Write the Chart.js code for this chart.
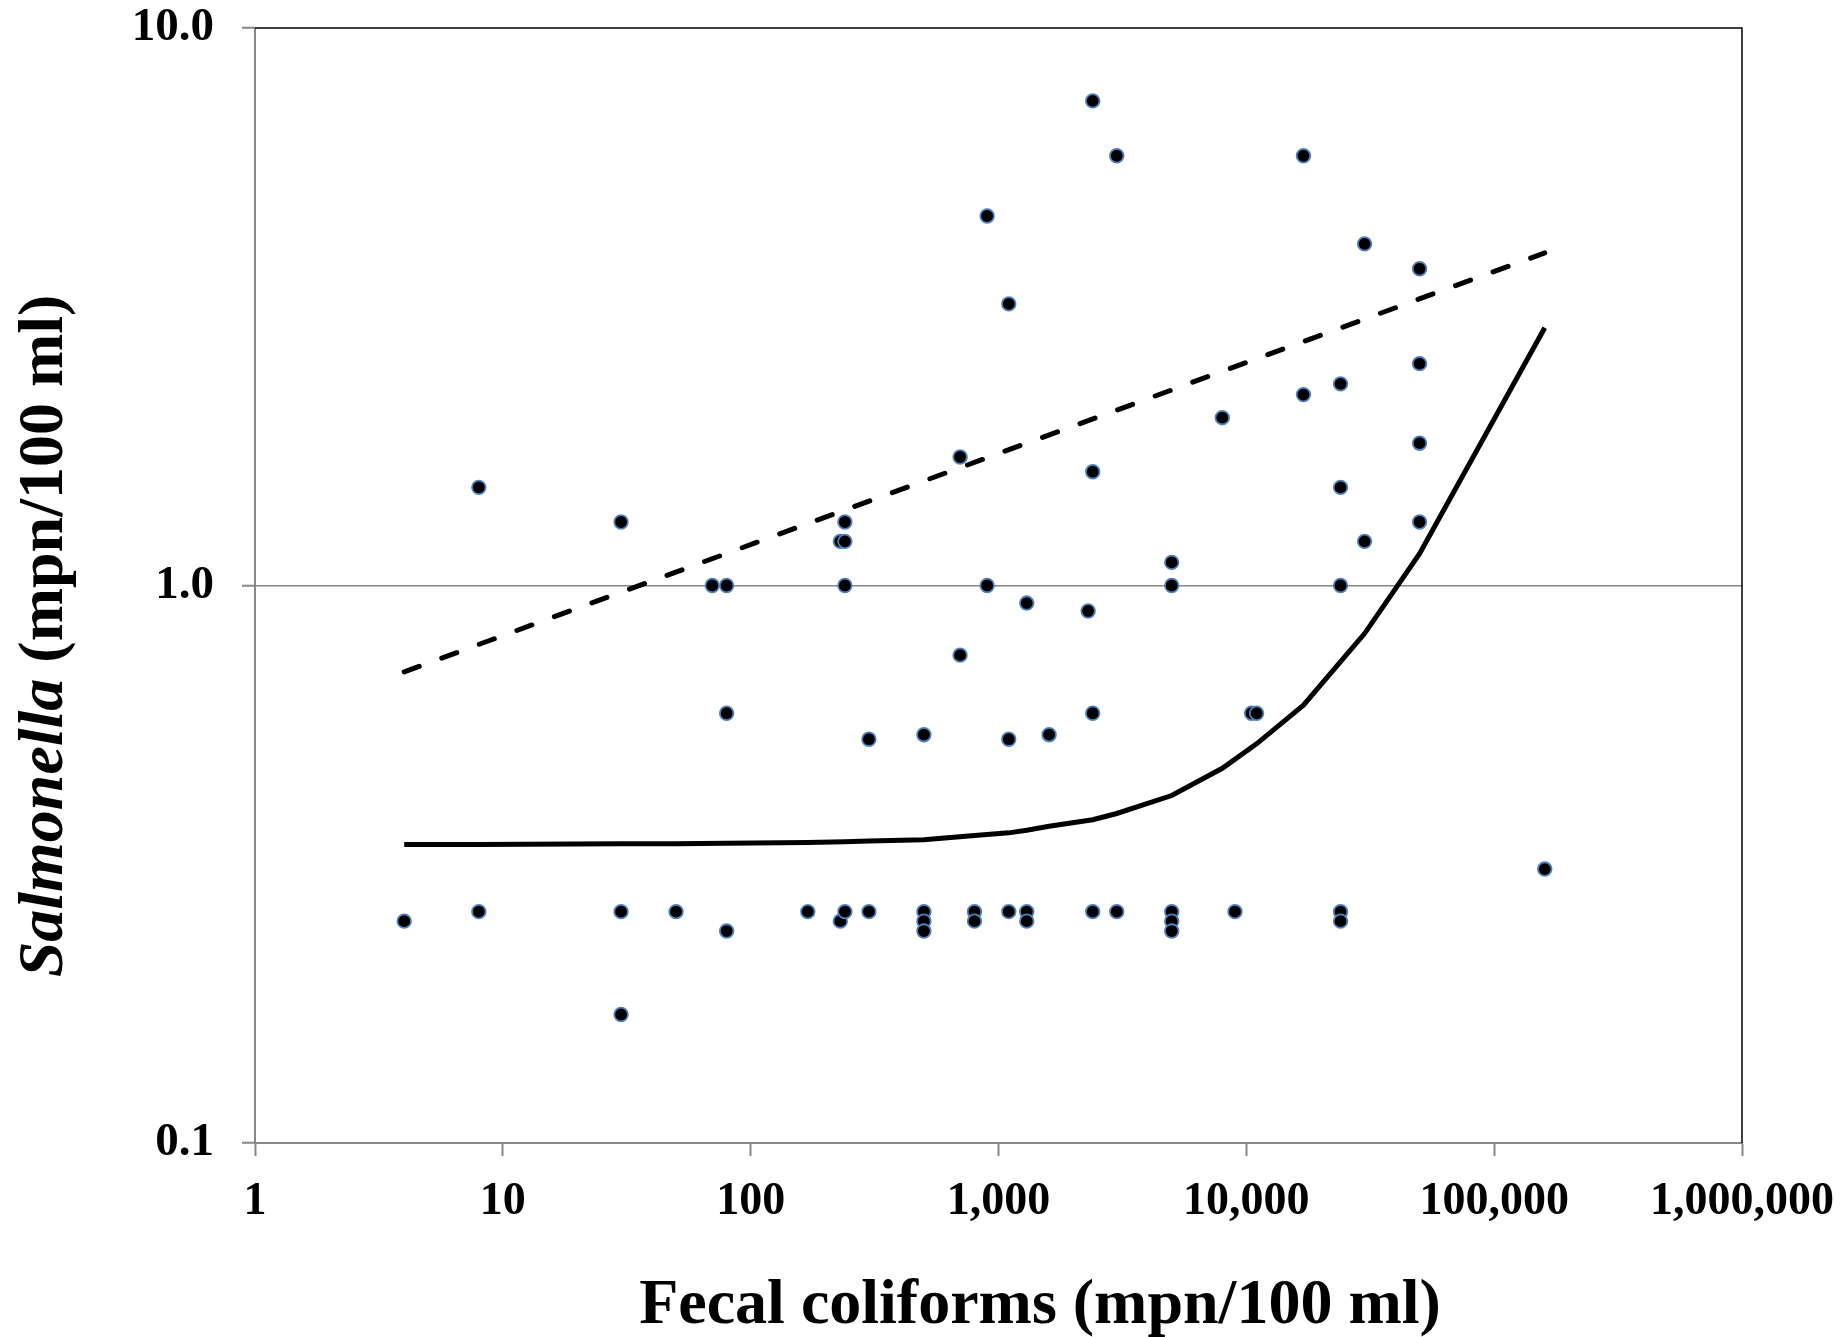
<!DOCTYPE html>
<html>
<head>
<meta charset="utf-8">
<script src="https://cdn.jsdelivr.net/npm/chart.js@4.4.1/dist/chart.umd.min.js"></script>
<style>
  html, body { margin: 0; padding: 0; background: #fff; }
  #wrap { width: 1845px; height: 1337px; }
</style>
</head>
<body>
<div id="wrap"><canvas id="chart" width="1845" height="1337"></canvas></div>
<script>
// observed samples: fecal coliforms vs salmonella (mpn/100 ml)
const fecalColiforms = [
    4, 8, 8, 30, 30, 30, 50, 70, 80, 80, 80, 170,
    230, 230, 240, 240, 240, 240, 300, 300,
    500, 500, 500, 500, 700, 700, 800, 800, 900, 900,
    1100, 1100, 1100, 1300, 1300, 1300, 1600, 2300,
    2400, 2400, 2400, 2400, 3000, 3000,
    5000, 5000, 5000, 5000, 5000, 8000, 9000, 10500, 11000,
    17000, 17000, 24000, 24000, 24000, 24000, 24000,
    30000, 30000, 50000, 50000, 50000, 50000, 160000
];
const salmonella = [
    0.25, 1.5, 0.26, 1.3, 0.26, 0.17, 0.26, 1.0, 1.0, 0.59, 0.24, 0.26,
    1.2, 0.25, 1.3, 1.2, 1.0, 0.26, 0.53, 0.26,
    0.54, 0.26, 0.25, 0.24, 1.7, 0.75, 0.26, 0.25, 4.6, 1.0,
    3.2, 0.53, 0.26, 0.93, 0.26, 0.25, 0.54, 0.9,
    7.4, 1.6, 0.59, 0.26, 5.9, 0.26,
    1.1, 1.0, 0.26, 0.25, 0.24, 2.0, 0.26, 0.59, 0.59,
    5.9, 2.2, 2.3, 1.5, 1.0, 0.26, 0.25,
    4.1, 1.2, 3.7, 2.5, 1.8, 1.3, 0.31
];

// upper (dashed) line
const upperX = [4, 160000];
const upperY = [0.70, 3.95];

// fitted (solid) curve
const fitX = [4, 8, 30, 50, 80, 170, 240, 300, 500, 800, 1100, 1300, 1600,
              2400, 3000, 5000, 8000, 11000, 17000, 24000, 30000, 50000, 160000];
const fitY = [0.343, 0.343, 0.344, 0.344, 0.345, 0.346, 0.347, 0.348, 0.35, 0.356, 0.36, 0.364, 0.37,
              0.38, 0.39, 0.42, 0.47, 0.52, 0.61, 0.73, 0.82, 1.14, 2.9];

const xTicks = [1, 10, 100, 1000, 10000, 100000, 1000000];
const yTicks = [0.1, 1, 10];

const toXY = (xs, ys) => xs.map((x, i) => ({x: x, y: ys[i]}));

const SERIF = '"Liberation Serif", "Times New Roman", serif';
const AXIS_GREY = '#868686';

// black frame on top and right, plus the two axis titles
const framePlugin = {
    id: 'frame',
    afterDraw(chart) {
        const {ctx, chartArea} = chart;
        ctx.save();
        ctx.strokeStyle = '#000';
        ctx.lineWidth = 1.5;
        ctx.beginPath();
        ctx.moveTo(chartArea.left, chartArea.top);
        ctx.lineTo(chartArea.right, chartArea.top);
        ctx.lineTo(chartArea.right, chartArea.bottom);
        ctx.stroke();

        ctx.fillStyle = '#000';
        ctx.textBaseline = 'alphabetic';

        // x title
        ctx.font = 'bold 64px ' + SERIF;
        ctx.textAlign = 'center';
        ctx.fillText('Fecal coliforms (mpn/100 ml)', 1040, 1323);

        // y title, italic genus name
        ctx.translate(62, 636);
        ctx.rotate(-Math.PI / 2);
        const part1 = 'Salmonella';
        const part2 = ' (mpn/100 ml)';
        ctx.font = 'italic bold 64px ' + SERIF;
        const w1 = ctx.measureText(part1).width;
        ctx.font = 'bold 64px ' + SERIF;
        const w2 = ctx.measureText(part2).width;
        let start = -(w1 + w2) / 2;
        ctx.textAlign = 'left';
        ctx.font = 'italic bold 64px ' + SERIF;
        ctx.fillText(part1, start, 0);
        ctx.font = 'bold 64px ' + SERIF;
        ctx.fillText(part2, start + w1, 0);
        ctx.restore();
    }
};

const ctx = document.getElementById('chart').getContext('2d');
const myChart = new Chart(ctx, {
    type: 'scatter',
    data: {
        datasets: [
            {
                data: toXY(fecalColiforms, salmonella),
                backgroundColor: '#000000',
                borderColor: '#4f81bd',
                borderWidth: 1.8,
                pointRadius: 6.8,
                order: 0
            },
            {
                type: 'line',
                data: toXY(upperX, upperY),
                borderColor: '#000000',
                borderWidth: 5,
                borderDash: [16, 24],
                borderCapStyle: 'round',
                pointRadius: 0,
                fill: false,
                order: 1
            },
            {
                type: 'line',
                data: toXY(fitX, fitY),
                borderColor: '#000000',
                borderWidth: 5,
                pointRadius: 0,
                tension: 0,
                fill: false,
                order: 1
            }
        ]
    },
    options: {
        responsive: false,
        animation: false,
        devicePixelRatio: 1,
        layout: {
            padding: {top: 28, right: 103, left: 0, bottom: 0}
        },
        plugins: {
            legend: {display: false},
            tooltip: {enabled: false}
        },
        scales: {
            x: {
                type: 'logarithmic',
                min: 1,
                max: 1000000,
                afterBuildTicks: (scale) => {
                    scale.ticks = xTicks.map(v => ({value: v}));
                },
                afterFit: (scale) => {
                    scale.height = 194;
                    scale.paddingLeft = 0;
                    scale.paddingRight = 0;
                },
                ticks: {
                    autoSkip: false,
                    maxRotation: 0,
                    padding: 19,
                    color: '#000',
                    font: {family: SERIF, size: 46, weight: 'bold'},
                    callback: (value) => Number(value).toLocaleString('en-US')
                },
                grid: {
                    drawOnChartArea: false,
                    tickColor: AXIS_GREY,
                    tickLength: 13,
                    tickWidth: 2
                },
                border: {color: AXIS_GREY, width: 2}
            },
            y: {
                type: 'logarithmic',
                min: 0.1,
                max: 10,
                afterBuildTicks: (scale) => {
                    scale.ticks = yTicks.map(v => ({value: v}));
                },
                afterFit: (scale) => {
                    scale.width = 255;
                    scale.paddingTop = 0;
                    scale.paddingBottom = 0;
                },
                ticks: {
                    autoSkip: false,
                    padding: 28,
                    color: '#000',
                    font: {family: SERIF, size: 47, weight: 'bold'},
                    callback: (value) => Number(value).toFixed(1)
                },
                grid: {
                    color: (c) => (c.tick && c.tick.value === 1) ? AXIS_GREY : 'rgba(0,0,0,0)',
                    lineWidth: 1.5,
                    tickColor: AXIS_GREY,
                    tickLength: 13,
                    tickWidth: 2
                },
                border: {color: AXIS_GREY, width: 2}
            }
        }
    },
    plugins: [framePlugin]
});
</script>
</body>
</html>
